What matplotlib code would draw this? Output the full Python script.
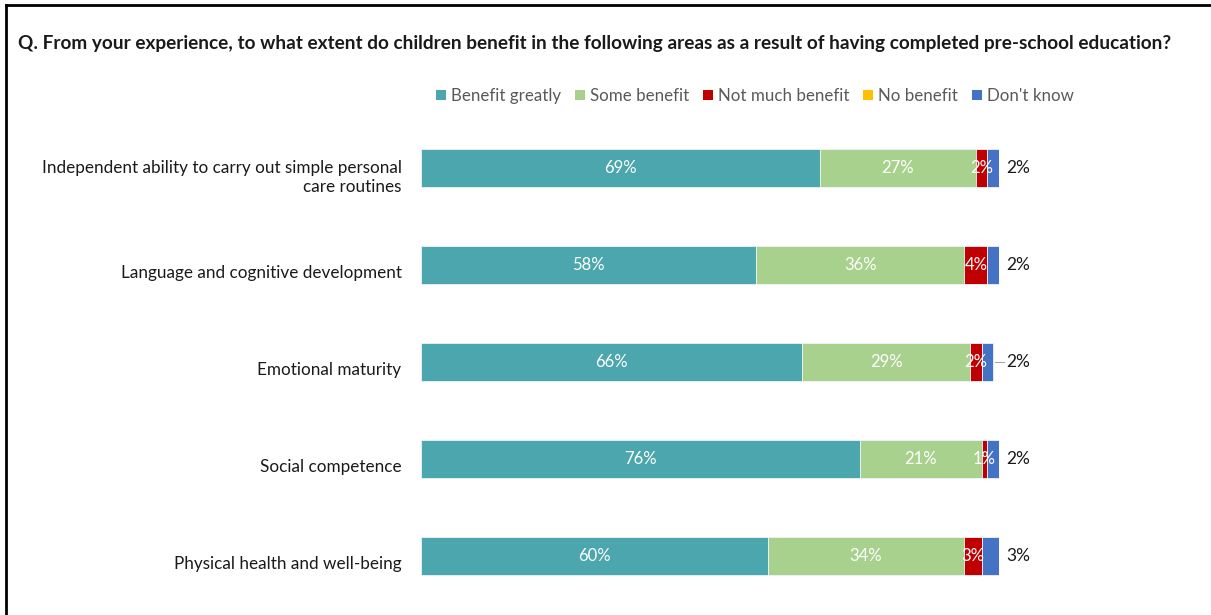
import matplotlib
matplotlib.use("Agg")
import matplotlib.pyplot as plt
from matplotlib.patches import Patch
from matplotlib.transforms import ScaledTranslation
import numpy as np

plt.rcParams['font.family'] = ['Lato', 'DejaVu Sans']

categories = [
    "Independent ability to carry out simple personal\ncare routines",
    "Language and cognitive development",
    "Emotional maturity",
    "Social competence",
    "Physical health and well-being",
]
series_names = ["Benefit greatly", "Some benefit", "Not much benefit", "No benefit", "Don't know"]
benefit_greatly = [69, 58, 66, 76, 60]
some_benefit = [27, 36, 29, 21, 34]
not_much_benefit = [2, 4, 2, 1, 3]
no_benefit = [0, 0, 0, 0, 0]
dont_know = [2, 2, 2, 2, 3]

colors = ["#4BA6AD", "#A9D18E", "#C00000", "#FFC000", "#4472C4"]
series = [benefit_greatly, some_benefit, not_much_benefit, no_benefit, dont_know]

fig = plt.figure(figsize=(12.11, 6.15), dpi=100)
ax = fig.add_axes([421 / 1211, 1 - 604.5 / 615, 578 / 1211, (604.5 - 119.5) / 615])

y = np.arange(len(categories))
left = np.zeros(len(categories))
for name, vals, col in zip(series_names, series, colors):
    vals = np.array(vals, dtype=float)
    ax.barh(y, vals, left=left, height=0.39, color=col, edgecolor="#eef3fb", linewidth=0.6, label=name)
    if name in ("Benefit greatly", "Some benefit", "Not much benefit"):
        for yi, l, v in zip(y, left, vals):
            if v > 0:
                ax.text(l + v / 2, yi, f"{int(v)}%", ha="center", va="center",
                        color="white", fontsize=12)
    left += vals

# "Don't know" values are labelled just outside the bars
label_x = 101.2
for yi, total, v in zip(y, left, dont_know):
    ax.text(label_x, yi, f"{v}%", ha="left", va="center", color="#1a1a1a", fontsize=12.5)
    if label_x - total > 2:
        ax.plot([total + 0.3, label_x - 0.4], [yi, yi], color="#a6a6a6", lw=0.8,
                clip_on=False)

ax.set_xlim(0, 100)
ax.set_ylim(len(categories) - 0.5, -0.5)
ax.set_yticks(y)
ax.set_yticklabels(categories, fontsize=12.3, color="#1a1a1a")
ax.tick_params(axis="y", length=0, pad=14)
# category labels sit slightly below the bar centres
shift = ScaledTranslation(0, -5 / 72, fig.dpi_scale_trans)
for lbl in ax.get_yticklabels():
    lbl.set_transform(lbl.get_transform() + shift)
ax.set_xticks([])
for s in ax.spines.values():
    s.set_visible(False)

fig.text(18 / 1211, 1 - 43 / 615, "Q. From your experience, to what extent do children benefit in the following areas as a result of having completed pre-school education?",
         ha="left", va="center", fontsize=13.7, fontweight="bold", color="#1a1a1a")

handles = [Patch(facecolor=c, edgecolor="none") for c in colors]
leg = fig.legend(handles, series_names, loc="center", bbox_to_anchor=(755 / 1211, 1 - 96 / 615),
                 ncol=5, frameon=False, fontsize=12.2, handlelength=0.6, handleheight=0.6,
                 handletextpad=0.3, columnspacing=0.8, labelcolor="#595959")

# frame lines on the left and top
fig.add_artist(plt.Line2D([6 / 1211, 6 / 1211], [0, 1 - 5 / 615], color="black", lw=2))
fig.add_artist(plt.Line2D([6 / 1211, 1], [1 - 5 / 615, 1 - 5 / 615], color="black", lw=2))

fig.savefig("out.png", dpi=100)
